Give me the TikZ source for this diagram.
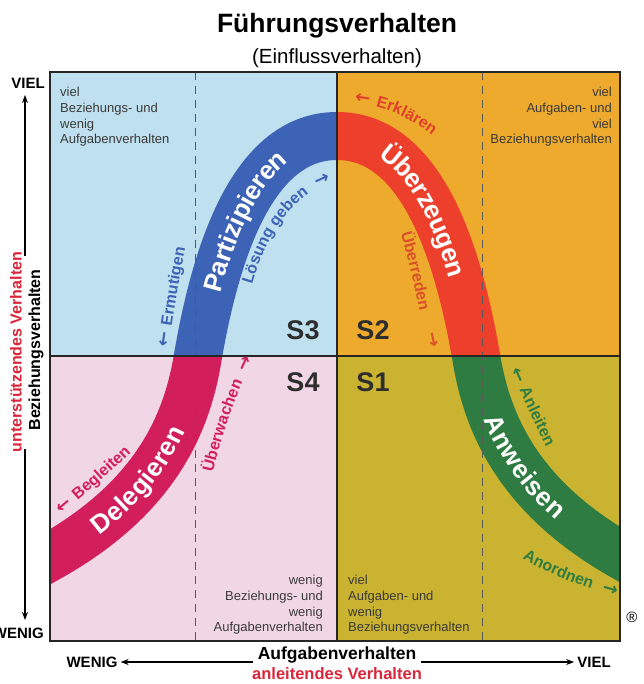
\documentclass[tikz,border=0pt]{standalone}
\usepackage{fontspec}
\setmainfont{Liberation Sans}
\newfontfamily\arrowfamily{DejaVu Sans}
\usetikzlibrary{arrows.meta,decorations.text}

\definecolor{quadblue}{HTML}{BFE0EE}
\definecolor{quadorange}{HTML}{EEAA2C}
\definecolor{quadpink}{HTML}{F1D6E6}
\definecolor{quadolive}{HTML}{C9B330}
\definecolor{bandblue}{HTML}{3D63B6}
\definecolor{bandred}{HTML}{EC402D}
\definecolor{bandcrimson}{HTML}{D21F5C}
\definecolor{bandgreen}{HTML}{2F7C42}
\definecolor{labelred}{HTML}{E0402B}
\definecolor{labelorange}{HTML}{D9502A}
\definecolor{axisred}{HTML}{D9263A}
\definecolor{quadtext}{HTML}{3A3A3A}
\definecolor{slabelgray}{HTML}{2E2E2E}

\newcommand{\lblfont}{\normalfont\bfseries\fontsize{16}{16}\selectfont}
\newcommand{\arrfont}{\arrowfamily\bfseries\fontsize{18}{18}\selectfont}

\begin{document}
\begin{tikzpicture}[x=1pt, y=-1pt,
	quadnote/.style={font=\fontsize{13}{15.7}\selectfont, text=quadtext, inner sep=0pt},
	slabel/.style={font=\bfseries\fontsize{27}{27}\selectfont, text=slabelgray},
	axislabel/.style={font=\bfseries\fontsize{15}{15}\selectfont, inner sep=3pt},
	axisarrow/.style={line width=1.3pt, -{Stealth[length=8pt,width=6pt]}},
	midline/.style={line width=1.2pt, draw=black!85},
	guideline/.style={dashed, dash pattern=on 8pt off 6pt, line width=0.9pt, draw=black!65},
	bandword/.style 2 args={decorate, decoration={text along path, text color=white, raise=-9pt,
		text align={align=left, left indent=#1}, text={|\bfseries\fontsize{26}{26}\selectfont|#2}}},
	curvelabel/.style 2 args={decorate, decoration={text along path, text color=#1, text align=center,
		text={|\lblfont|#2}}}]

	\useasboundingbox (0,0) rectangle (643,684);
	\fill[white] (0,0) rectangle (643,684);

	%% title
	\node[font=\bfseries\fontsize{26.5}{26.5}\selectfont, anchor=base] (title) at (337,33) {Führungsverhalten};
	\node[font=\fontsize{20.5}{20.5}\selectfont, anchor=base] (subtitle) at (337,64) {(Einflussverhalten)};

	%% the four quadrants
	\fill[quadblue] (50,72) rectangle (337,356);
	\fill[quadorange] (337,72) rectangle (620,356);
	\fill[quadpink] (50,356) rectangle (337,641);
	\fill[quadolive] (337,356) rectangle (620,641);

	%% the bell curve, one colour per quadrant
	\foreach \xa/\ya/\xb/\yb/\bandcol in {50/72/337/356/bandblue, 337/72/620/356/bandred,
		50/356/337/641/bandcrimson, 337/356/620/641/bandgreen}{
		\begin{scope}
			\clip (\xa,\ya) rectangle (\xb,\yb);
			\draw[line width=48pt, \bandcol] (20,574) -- (50,557)
				.. controls (160,495) and (188,418) .. (198,356)
				.. controls (218,240) and (257,136) .. (337,136)
				.. controls (417,136) and (456,240) .. (476,356)
				.. controls (486,418) and (514,495) .. (624,557) -- (654,574);
		\end{scope}
	}

	%% grid
	\draw[guideline] (195,72) -- (195,641);
	\draw[guideline] (482,72) -- (482,641);
	\draw[midline] (337,72) -- (337,641);
	\draw[midline] (50,356) -- (620,356);
	\draw[line width=2pt, black!85] (50,72) rectangle (620,641);

	%% words on the band
	\path[bandword={66pt}{Partizipieren}] (198,356) .. controls (218,240) and (257,136) .. (337,136);
	\path[bandword={50pt}{Überzeugen}] (337,136) .. controls (417,136) and (456,240) .. (476,356);
	\path[bandword={52pt}{Delegieren}] (50,557) .. controls (160,495) and (188,418) .. (198,356);
	\path[bandword={62pt}{Anweisen}] (476,356) .. controls (486,418) and (514,495) .. (624,557);

	%% labels beside the band
	\path[curvelabel={bandblue}{|\arrfont|← |\lblfont|Ermutigen}] (165,374) .. controls (171,330) and (177,285) .. (191,222);
	\path[curvelabel={bandblue}{Lösung geben |\arrfont| →}] (249,296) .. controls (265,232) and (295,190) .. (343,178);
	\path[curvelabel={labelred}{|\arrfont|← |\lblfont|Erklären}] (338,102) .. controls (377,102) and (409,114) .. (445,146);
	\path[curvelabel={labelorange}{Überreden}] (395,215) .. controls (405,245) and (415,285) .. (423,330);
	\node[font=\arrfont, text=labelorange, rotate=-78, inner sep=0pt] (persuadearrow) at (433,340) {→};
	\path[curvelabel={bandcrimson}{Überwachen |\arrfont| →}] (212,476) .. controls (220,442) and (232,402) .. (255,355);
	\path[curvelabel={bandcrimson}{|\arrfont|← |\lblfont|Begleiten}] (49,525) .. controls (73,504) and (103,480) .. (143,441);
	\path[curvelabel={bandgreen}{|\arrfont|← |\lblfont|Anleiten}] (503,352) .. controls (515,380) and (530,415) .. (555,465);
	\path[curvelabel={bandgreen}{Anordnen |\arrfont| →}] (510,551) .. controls (540,570) and (580,588) .. (630,600);

	%% style labels
	\node[slabel] (s3) at (303,330) {S3};
	\node[slabel] (s2) at (373,330) {S2};
	\node[slabel] (s4) at (303,382) {S4};
	\node[slabel] (s1) at (373,382) {S1};

	%% quadrant notes
	\node[quadnote, anchor=north west, align=left] (notetl) at (60,87) {viel\\Beziehungs- und\\wenig\\Aufgabenverhalten};
	\node[quadnote, anchor=north east, align=right] (notetr) at (612,87) {viel\\Aufgaben- und\\viel\\Beziehungsverhalten};
	\node[quadnote, anchor=north east, align=right] (notebl) at (323,575) {wenig\\Beziehungs- und\\wenig\\Aufgabenverhalten};
	\node[quadnote, anchor=north west, align=left] (notebr) at (348,575) {viel\\Aufgaben- und\\wenig\\Beziehungsverhalten};

	%% vertical axis
	\node[axislabel] (yhigh) at (28,83) {VIEL};
	\node[axislabel, anchor=east] (ylow) at (47,633) {WENIG};
	\node[axislabel, font=\bfseries\fontsize{16}{16}\selectfont, text=axisred, rotate=90] (ysub) at (16,352) {unterstützendes Verhalten};
	\node[axislabel, font=\bfseries\fontsize{16}{16}\selectfont, rotate=90] (ymain) at (36,350) {Beziehungsverhalten};
	\coordinate (yupstart) at (25,256);
	\coordinate (yupend) at (25,95);
	\coordinate (ydownstart) at (25,449);
	\coordinate (ydownend) at (25,620);
	\draw[axisarrow] (yupstart) -- (yupend);
	\draw[axisarrow] (ydownstart) -- (ydownend);

	%% horizontal axis
	\node[axislabel] (xlow) at (92,662) {WENIG};
	\node[axislabel] (xhigh) at (594,662) {VIEL};
	\node[font=\bfseries\fontsize{17.5}{17.5}\selectfont, inner sep=5pt] (xmain) at (337,655) {Aufgabenverhalten};
	\node[font=\bfseries\fontsize{16.5}{16.5}\selectfont, text=axisred] (xsub) at (337,674) {anleitendes Verhalten};
	\draw[axisarrow] (xmain.west |- xlow) -- (xlow.east);
	\draw[axisarrow] (xmain.east |- xhigh) -- (xhigh.west);

	\node[font=\fontsize{15}{15}\selectfont] (regmark) at (632,617) {®};
\end{tikzpicture}
\end{document}
